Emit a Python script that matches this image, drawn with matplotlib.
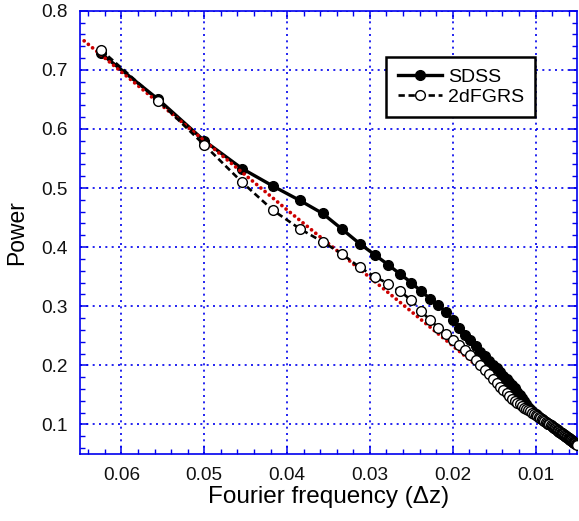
import matplotlib
matplotlib.use("Agg")
import matplotlib.pyplot as plt
from matplotlib.ticker import MultipleLocator, FormatStrFormatter

plt.rcParams['font.family'] = ['Liberation Sans', 'DejaVu Sans']

# Fourier frequency (delta z) sample points
freq = [0.0625, 0.05556, 0.05, 0.04545, 0.04167, 0.03846, 0.03571, 0.03333, 0.03125, 0.02941,
        0.02778, 0.02632, 0.025, 0.02381, 0.02273, 0.02174, 0.02083, 0.02, 0.01923, 0.01852,
        0.01786, 0.01724, 0.01667, 0.01613, 0.01563, 0.01515, 0.01471, 0.01429, 0.01389, 0.01351,
        0.01316, 0.01282, 0.0125, 0.0122, 0.0119, 0.01163, 0.01136, 0.01111, 0.01087, 0.01064,
        0.01042, 0.0102, 0.01,
        0.009804, 0.009615, 0.009434, 0.009259, 0.009091, 0.008929, 0.008772, 0.008621, 0.008475, 0.008333,
        0.008197, 0.008065, 0.007937, 0.007813, 0.007692, 0.007576, 0.007463, 0.007353, 0.007246, 0.007143,
        0.007042, 0.006944, 0.006849, 0.006757, 0.006667, 0.006579, 0.006494, 0.006410, 0.006329, 0.00625,
        0.006173, 0.006098, 0.006024, 0.005952, 0.005882, 0.005814, 0.005747, 0.005682, 0.005618, 0.005556,
        0.005495, 0.005435, 0.005376, 0.005319, 0.005263, 0.005208, 0.005155, 0.005102, 0.005051, 0.005]

sdss = [0.728, 0.650, 0.580, 0.533, 0.503, 0.479, 0.457, 0.430, 0.406, 0.387,
        0.370, 0.354, 0.340, 0.325, 0.313, 0.302, 0.290, 0.277, 0.263, 0.252,
        0.243, 0.233, 0.223, 0.215, 0.208, 0.201, 0.195, 0.188, 0.182, 0.177,
        0.172, 0.166, 0.161, 0.155, 0.150, 0.145, 0.140, 0.135, 0.130, 0.126,
        0.123, 0.120, 0.1175,
        0.1152, 0.1133, 0.1114, 0.1096, 0.1078, 0.1062, 0.1046, 0.1030, 0.1015, 0.1001,
        0.0987, 0.0974, 0.0961, 0.0948, 0.0936, 0.0924, 0.0912, 0.0901, 0.0890, 0.0880,
        0.0869, 0.0859, 0.0850, 0.0840, 0.0831, 0.0822, 0.0813, 0.0805, 0.0797, 0.0789,
        0.0781, 0.0773, 0.0765, 0.0758, 0.0751, 0.0744, 0.0737, 0.0731, 0.0724, 0.0718,
        0.0711, 0.0705, 0.0699, 0.0694, 0.0688, 0.0682, 0.0677, 0.0671, 0.0666, 0.0661]

twodf = [0.734, 0.648, 0.573, 0.510, 0.462, 0.431, 0.409, 0.388, 0.366, 0.350,
         0.338, 0.325, 0.310, 0.292, 0.276, 0.264, 0.253, 0.243, 0.234, 0.226,
         0.218, 0.2095, 0.201, 0.1925, 0.185, 0.1777, 0.1705, 0.1638, 0.158, 0.1525,
         0.1475, 0.1435, 0.1397, 0.137, 0.134, 0.131, 0.1285, 0.126, 0.124, 0.122,
         0.120, 0.118, 0.1165,
         0.1148, 0.1130, 0.1112, 0.1094, 0.1077, 0.1061, 0.1045, 0.1029, 0.1014, 0.1000,
         0.0986, 0.0973, 0.0960, 0.0947, 0.0935, 0.0923, 0.0911, 0.0900, 0.0889, 0.0879,
         0.0868, 0.0858, 0.0849, 0.0839, 0.0830, 0.0821, 0.0812, 0.0804, 0.0796, 0.0788,
         0.0780, 0.0772, 0.0764, 0.0757, 0.0750, 0.0743, 0.0736, 0.0730, 0.0723, 0.0717,
         0.0710, 0.0704, 0.0698, 0.0693, 0.0687, 0.0681, 0.0676, 0.0670, 0.0665, 0.0660]

fit_x = [0.0645, 0.050, 0.040, 0.033, 0.025, 0.0175]
fit_y = [0.749, 0.580, 0.463, 0.383, 0.291, 0.204]

xticks = [0.06, 0.05, 0.04, 0.03, 0.02, 0.01]
yticks = [0.1, 0.2, 0.3, 0.4, 0.5, 0.6, 0.7, 0.8]

BLUE = '#0000ee'
RED = '#cc0000'

fig = plt.figure(figsize=(5.79, 5.21), dpi=100)
ax = fig.add_axes([80/579, 1-454/521, 497/579, 443.3/521])

ax.plot(freq, sdss, color='black', lw=2.4, marker='o', ms=7.0,
        mfc='black', mec='black', label='SDSS', zorder=3)
ax.plot(fit_x, fit_y, color=RED, lw=2.7, linestyle=(0, (0.01, 1.45)),
        dash_capstyle='round', solid_capstyle='round', zorder=4)
ax.plot(freq, twodf, color='black', lw=1.9, linestyle=(0, (2.4, 1.4)), marker='o', ms=7.0,
        mfc='white', mec='black', mew=1.0, label='2dFGRS', zorder=5)

ax.set_xlim(0.065, 0.005)
ax.set_ylim(0.05, 0.8)
ax.set_xticks(xticks)
ax.set_yticks(yticks)
ax.xaxis.set_major_formatter(FormatStrFormatter('%.2f'))
ax.yaxis.set_major_formatter(FormatStrFormatter('%.1f'))
ax.xaxis.set_minor_locator(MultipleLocator(0.002))
ax.yaxis.set_minor_locator(MultipleLocator(0.02))

ax.grid(True, which='major', color=BLUE, linestyle=(0, (1.2, 2.6)), lw=1.2)
for s in ax.spines.values():
    s.set_color(BLUE)
    s.set_linewidth(1.2)
ax.tick_params(which='both', direction='in', top=True, right=True, color=BLUE,
               labelsize=13.7, labelcolor='#111111')
ax.tick_params(which='major', length=6, width=1.1, pad=9)
ax.tick_params(which='minor', length=3.5, width=1.0)

ax.set_xlabel('Fourier frequency (Δz)', fontsize=17.5, labelpad=2)
ax.set_ylabel('Power', fontsize=16.5, labelpad=9)

leg = ax.legend(loc='upper right', bbox_to_anchor=(0.916, 0.896), fontsize=14,
                frameon=True, fancybox=False, handlelength=2.3, labelspacing=0.14,
                borderpad=0.58, handletextpad=0.28, borderaxespad=0)
leg.get_frame().set_edgecolor('black')
leg.get_frame().set_linewidth(1.8)
leg.get_frame().set_alpha(1)

fig.savefig('out.png', dpi=100)
